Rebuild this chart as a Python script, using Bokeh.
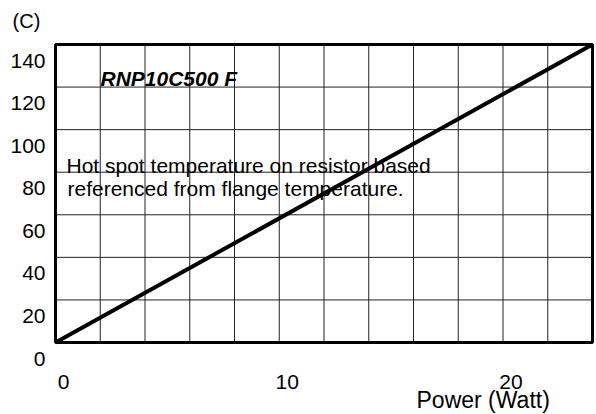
from bokeh.plotting import figure
from bokeh.models import Range1d, ColumnDataSource
from bokeh.core.properties import value
from bokeh.embed import file_html
from bokeh.resources import INLINE

# ---- Data ----
power = [0, 24]
temperature = [0, 140]
x_limits = [0, 24]
y_limits = [0, 140]
x_ticks = [0, 10, 20]
x_tick_labels = ["0", "10", "20"]
y_ticks = [0, 20, 40, 60, 80, 100, 120, 140]
y_tick_labels = ["0", "20", "40", "60", "80", "100", "120", "140"]
x_grid = [0, 2, 4, 6, 8, 10, 12, 14, 16, 18, 20, 22, 24]
y_grid = [0, 20, 40, 60, 80, 100, 120, 140]

# ---- Layout (pixels) ----
W, H = 596, 414
L, R, T, B = 55, 592, 44, 342   # drawn plot box
FONT = "Liberation Sans"

x0, x1 = x_limits
y0, y1 = y_limits
xs = (R - L) / (x1 - x0)
ys = (B - T) / (y1 - y0)


def px_x(px):
    return x0 + (px - L) / xs


def px_y(py):
    return y0 + (B - py) / ys


p = figure(width=W, height=H, output_backend="svg", toolbar_location=None,
           x_range=Range1d(px_x(0), px_x(W)), y_range=Range1d(px_y(H), px_y(0)),
           x_axis_location=None, y_axis_location=None, min_border=0)
p.outline_line_color = None
p.background_fill_color = "white"
p.border_fill_color = "white"
p.grid.visible = False

# grid lines
gx = ColumnDataSource(dict(x=x_grid, y0=[y0] * len(x_grid), y1=[y1] * len(x_grid)))
p.segment(x0="x", y0="y0", x1="x", y1="y1", source=gx, line_color="#222222", line_width=1)
gy = ColumnDataSource(dict(y=y_grid, x0=[x0] * len(y_grid), x1=[x1] * len(y_grid)))
p.segment(x0="x0", y0="y", x1="x1", y1="y", source=gy, line_color="#222222", line_width=1)

# plot box
p.quad(left=[x0], right=[x1], bottom=[y0], top=[y1], fill_color=None,
       line_color="black", line_width=3)

# data line
p.line(power, temperature, line_width=4, line_color="black")

# y tick labels (sit below their grid lines)
p.text(x=[px_x(45)] * len(y_ticks), y=[v - 16 / ys for v in y_ticks], text=y_tick_labels,
       text_align="right", text_baseline="middle", text_font=value(FONT),
       text_font_size=value("21px"), text_color="black")

# x tick labels
p.text(x=[v + 8 / xs for v in x_ticks], y=[px_y(381)] * len(x_ticks), text=x_tick_labels,
       text_align="center", text_baseline="middle", text_font=value(FONT),
       text_font_size=value("21px"), text_color="black")

# unit / axis titles
p.text(x=[px_x(26)], y=[px_y(20)], text=["(C)"], text_align="center", text_baseline="middle",
       text_font=value(FONT), text_font_size=value("20px"), text_color="black")
p.text(x=[px_x(416)], y=[px_y(399)], text=["Power (Watt)"], text_align="left",
       text_baseline="middle", text_font=value(FONT), text_font_size=value("23px"),
       text_color="black")

# annotations inside the plot
p.text(x=[px_x(100)], y=[px_y(78)], text=["RNP10C500 F"], text_align="left",
       text_baseline="middle", text_font=value(FONT), text_font_size=value("21px"),
       text_font_style="bold italic", text_color="black")
p.text(x=[px_x(66)], y=[px_y(165)], text=["Hot spot temperature on resistor based"],
       text_align="left", text_baseline="middle", text_font=value(FONT),
       text_font_size=value("21px"), text_color="black")
p.text(x=[px_x(67)], y=[px_y(188)], text=["referenced from flange temperature."],
       text_align="left", text_baseline="middle", text_font=value(FONT),
       text_font_size=value("21px"), text_color="black")

open("out.html", "w").write(file_html(p, INLINE))
